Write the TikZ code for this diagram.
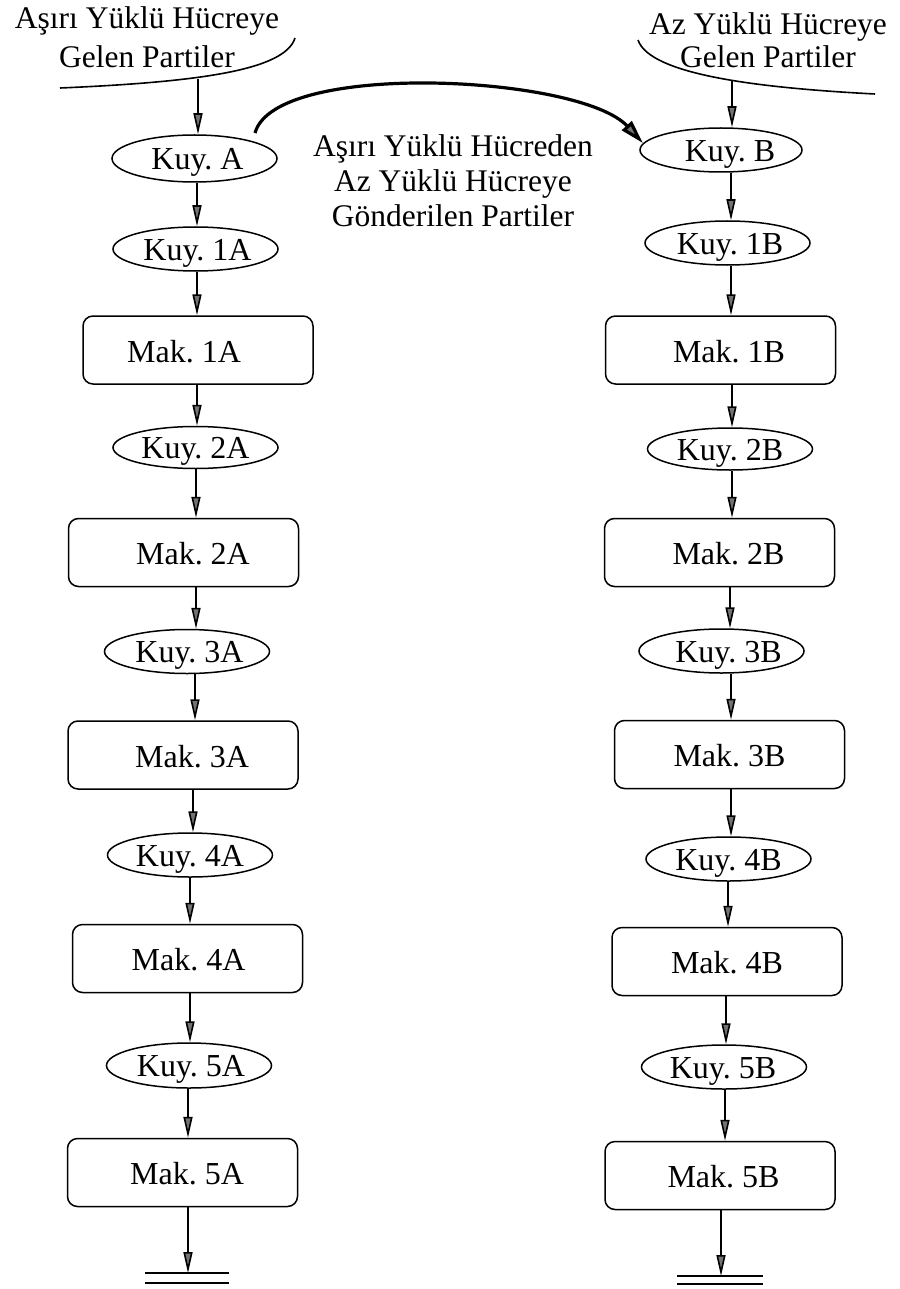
\documentclass[tikz,border=0pt]{standalone}
\usepackage{fontspec}
\setmainfont{Liberation Serif}
\usetikzlibrary{arrows.meta,shapes.geometric}
\newcommand{\txtshift}[2]{\hspace*{#1pt}#2\hspace*{-#1pt}}
\begin{document}
\frenchspacing
\begin{tikzpicture}[x=1pt,y=-1pt,
  every node/.style={font=\fontsize{32}{36}\selectfont},
  kuy/.style={draw,ellipse,line width=1.5pt,minimum width=165pt,minimum height=44pt,inner sep=0pt,text height=22.5pt,text depth=0pt},
  mak/.style={draw,rounded corners=10pt,line width=1.5pt,minimum width=230pt,minimum height=68pt,inner sep=0pt,text height=24pt,text depth=0pt},
  flow/.style={line width=1.6pt,-{Triangle[length=21pt,width=9pt,fill=black!55]}},
  edge line/.style={line width=1.6pt},
  big flow/.style={line width=3.2pt,-{Triangle[length=24pt,width=13pt,fill=black!55]}},
  lbl/.style={align=center}]
\useasboundingbox (0,0) rectangle (899,1289);

% ---------- left column ----------
\node[kuy,minimum height=47pt] (kA)  at (194.5,158.5) {\txtshift{3}{Kuy. A}};
\node[kuy] (k1A) at (195.5,249)   {\txtshift{2}{Kuy. 1A}};
\node[mak] (m1A) at (198,350)     {\txtshift{-14}{Mak. 1A}};
\node[kuy,minimum height=42pt] (k2A) at (195.5,447.5) {Kuy. 2A};
\node[mak] (m2A) at (183.5,552.5) {\txtshift{9.5}{Mak. 2A}};
\node[kuy] (k3A) at (187,651.5)   {\txtshift{2.5}{Kuy. 3A}};
\node[mak] (m3A) at (183,755)     {\txtshift{9}{Mak. 3A}};
\node[kuy] (k4A) at (190,855)     {Kuy. 4A};
\node[mak] (m4A) at (187.5,958.5) {\txtshift{1}{Mak. 4A}};
\node[kuy,minimum height=45pt] (k5A) at (189,1065.5) {\txtshift{2}{Kuy. 5A}};
\node[mak] (m5A) at (182.5,1172.5) {\txtshift{4.5}{Mak. 5A}};

% ---------- right column ----------
\node[kuy,minimum width=162pt] (kB)  at (721,150) {\txtshift{9}{Kuy. B}};
\node[kuy] (k1B) at (727.5,243)   {\txtshift{2.5}{Kuy. 1B}};
\node[mak] (m1B) at (720.5,350)   {\txtshift{8.5}{Mak. 1B}};
\node[kuy,minimum height=42pt] (k2B) at (730,449) {Kuy. 2B};
\node[mak] (m2B) at (719.5,552.5) {\txtshift{9}{Mak. 2B}};
\node[kuy] (k3B) at (721.5,651)   {\txtshift{7}{Kuy. 3B}};
\node[mak] (m3B) at (729.5,754.5) {Mak. 3B};
\node[kuy] (k4B) at (728.5,859)   {Kuy. 4B};
\node[mak] (m4B) at (727,961.5)   {Mak. 4B};
\node[kuy] (k5B) at (724,1067)    {\txtshift{-1}{Kuy. 5B}};
\node[mak] (m5B) at (720,1175.5)  {\txtshift{3.5}{Mak. 5B}};

% ---------- labels ----------
\node[lbl,font=\fontsize{31.5}{39}\selectfont] (lblA) at (147,37) {Aşırı Yüklü Hücreye\\Gelen Partiler};
\node[lbl,font=\fontsize{31.5}{33}\selectfont] (lblB) at (768,40) {Az Yüklü Hücreye\\Gelen Partiler};
\node[lbl,font=\fontsize{31.5}{35}\selectfont] (lblM) at (453,181) {Aşırı Yüklü Hücreden\\Az Yüklü Hücreye\\Gönderilen Partiler};

% ---------- incoming curves ----------
\draw[edge line] (60,88) .. controls (200,82) and (285,70) .. (295,38);
\draw[edge line] (638,40) .. controls (650,75) and (760,88) .. (875,94);
\coordinate (inA) at (198,79);
\coordinate (inB) at (732,81);

% ---------- column x positions ----------
\coordinate (a1) at (197,0);
\coordinate (a2) at (196,0);
\coordinate (a3) at (195,0);
\coordinate (a4) at (193,0);
\coordinate (a5) at (190,0);
\coordinate (a6) at (188,0);
\coordinate (b1) at (731,0);
\coordinate (b2) at (732,0);
\coordinate (b3) at (730,0);
\coordinate (b4) at (728,0);
\coordinate (b5) at (726,0);
\coordinate (b6) at (725,0);

% ---------- left arrows ----------
\draw[flow] (inA) -- (kA.north -| inA);
\draw[flow] (kA.south -| a1) -- (k1A.north -| a1);
\draw[flow] (k1A.south -| a1) -- (m1A.north -| a1);
\draw[flow] (m1A.south -| a1) -- (k2A.north -| a1);
\draw[flow] (k2A.south -| a2) -- (m2A.north -| a2);
\draw[flow] (m2A.south -| a2) -- (k3A.north -| a2);
\draw[flow] (k3A.south -| a3) -- (m3A.north -| a3);
\draw[flow] (m3A.south -| a4) -- (k4A.north -| a4);
\draw[flow] (k4A.south -| a5) -- (m4A.north -| a5);
\draw[flow] (m4A.south -| a5) -- (k5A.north -| a5);
\draw[flow] (k5A.south -| a6) -- (m5A.north -| a6);
\coordinate (endA) at (188,1273);
\draw[flow] (m5A.south -| endA) -- (endA);
\draw[edge line] (145,1273) -- (229,1273) (145,1283) -- (229,1283);

% ---------- right arrows ----------
\draw[flow] (inB) -- (kB.north -| inB);
\draw[flow] (kB.south -| b1) -- (k1B.north -| b1);
\draw[flow] (k1B.south -| b1) -- (m1B.north -| b1);
\draw[flow] (m1B.south -| b2) -- (k2B.north -| b2);
\draw[flow] (k2B.south -| b2) -- (m2B.north -| b2);
\draw[flow] (m2B.south -| b3) -- (k3B.north -| b3);
\draw[flow] (k3B.south -| b1) -- (m3B.north -| b1);
\draw[flow] (m3B.south -| b1) -- (k4B.north -| b1);
\draw[flow] (k4B.south -| b4) -- (m4B.north -| b4);
\draw[flow] (m4B.south -| b5) -- (k5B.north -| b5);
\draw[flow] (k5B.south -| b6) -- (m5B.north -| b6);
\coordinate (endB) at (721,1276);
\draw[flow] (m5B.south -| endB) -- (endB);
\draw[edge line] (677,1276) -- (763,1276) (677,1284) -- (763,1284);

% ---------- transfer arrow ----------
\coordinate (tstart) at (255,133);
\draw[big flow] (tstart) .. controls (275,60) and (580,75) .. (kB.175);
\end{tikzpicture}
\end{document}
